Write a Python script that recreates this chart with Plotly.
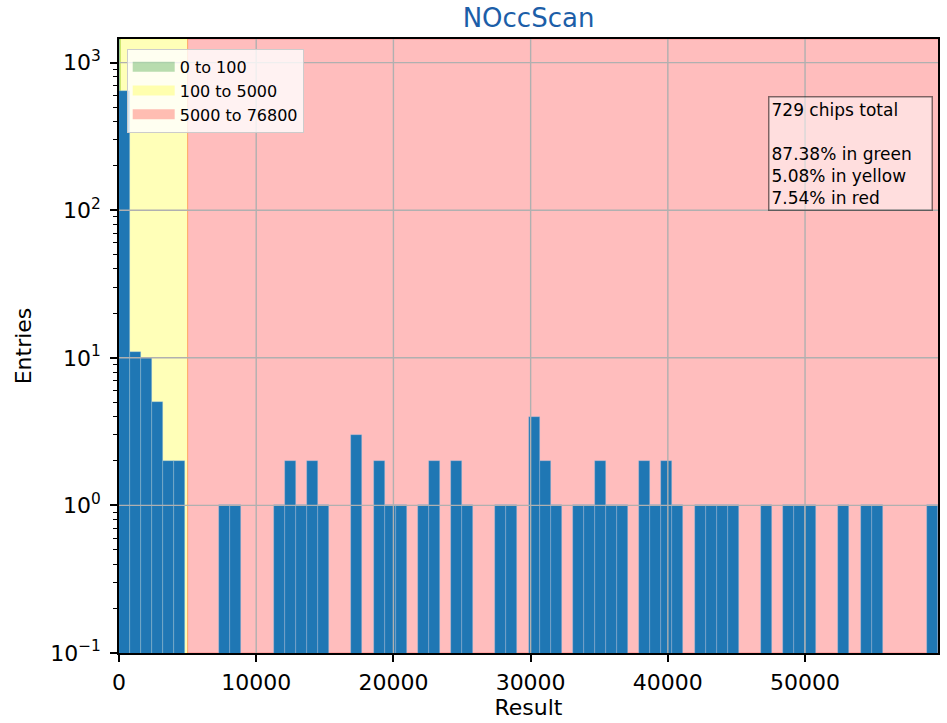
import numpy as np
import plotly.graph_objects as go

# Histogram of NOccScan results (74 equal-width bins from 0 to X_MAX)
X_MAX = 59690
counts = [644, 11, 10, 5, 2, 2, 0, 0, 0, 1,
          1, 0, 0, 0, 1, 2, 1, 2, 1, 0,
          0, 3, 0, 2, 1, 1, 0, 1, 2, 0,
          2, 1, 0, 0, 1, 1, 0, 4, 2, 1,
          0, 1, 1, 2, 1, 1, 0, 2, 1, 2,
          1, 0, 1, 1, 1, 1, 0, 0, 1, 0,
          1, 1, 1, 0, 0, 1, 0, 1, 1, 0,
          0, 0, 0, 1]

# Quality bands (lower, upper, label, colour)
band_lo = [0, 100, 5000]
band_hi = [100, 5000, 76800]
band_names = ["0 to 100", "100 to 5000", "5000 to 76800"]
band_colors = ["rgba(0,128,0,0.28)", "rgba(255,255,0,0.28)", "rgba(255,0,0,0.26)"]

x_ticks = [0, 10000, 20000, 30000, 40000, 50000]
x_ticktext = ["0", "10000", "20000", "30000", "40000", "50000"]
y_ticks = [0.1, 1, 10, 100, 1000]
y_ticktext = ["10<sup>\u22121</sup>", "10<sup>0</sup>", "10<sup>1</sup>",
              "10<sup>2</sup>", "10<sup>3</sup>"]
Y_LOG_RANGE = [-1, 3.16]

summary_lines = ["729 chips total", "", "87.38% in green", "5.08% in yellow", "7.54% in red"]

FONT = "DejaVu Sans"

edges = np.linspace(0, X_MAX, len(counts) + 1)
centers = (edges[:-1] + edges[1:]) / 2
widths = np.diff(edges)
bar_y = [c if c > 0 else None for c in counts]

fig = go.Figure()

# Bars
fig.add_trace(go.Bar(
    x=centers, y=bar_y, width=widths,
    marker=dict(color="#1f77b4", line=dict(color="rgba(170,200,230,0.55)", width=0.6)),
    showlegend=False, hoverinfo="x+y",
))

# Grid lines drawn on top of the bars
y_top = 10 ** Y_LOG_RANGE[1]
y_bot = 10 ** Y_LOG_RANGE[0]
gx, gy = [], []
for v in x_ticks[1:]:
    gx += [v, v, None]
    gy += [y_bot, y_top, None]
for v in y_ticks[1:]:
    gx += [0, X_MAX, None]
    gy += [v, v, None]
fig.add_trace(go.Scatter(x=gx, y=gy, mode="lines",
                         line=dict(color="#b0b0b0", width=1.4),
                         showlegend=False, hoverinfo="skip"))

# Legend entries for the bands
for name, col in zip(band_names, band_colors):
    fig.add_trace(go.Scatter(x=[None], y=[None], mode="lines", name=name,
                             line=dict(color=col, width=11)))

# Shaded bands behind everything
for lo, hi, col in zip(band_lo, band_hi, band_colors):
    fig.add_shape(type="rect", xref="x", yref="y domain", x0=lo, x1=hi, y0=0, y1=1,
                  fillcolor=col, line=dict(color=col, width=1), layer="below")

fig.add_annotation(
    xref="paper", yref="paper", x=0.793, y=0.907, xanchor="left", yanchor="top",
    text="<br>".join(summary_lines), align="left", showarrow=False,
    font=dict(family=FONT, size=17, color="black"),
    bgcolor="rgba(255,255,255,0.5)", bordercolor="rgba(0,0,0,0.5)",
    borderwidth=1.5, borderpad=2, width=158,
)

fig.update_layout(
    width=947, height=723,
    margin=dict(l=119, r=7, t=39, b=69),
    paper_bgcolor="white", plot_bgcolor="white",
    bargap=0,
    font=dict(family=FONT, color="black"),
    title=dict(text="NOccScan", x=0.5, xref="paper", y=0.975, yref="container",
               xanchor="center", yanchor="middle",
               font=dict(family=FONT, size=26, color="#1c5ea8")),
    legend=dict(x=0.0094, y=0.984, xanchor="left", yanchor="top", itemwidth=42,
                bgcolor="rgba(255,255,255,0.8)", bordercolor="#cccccc", borderwidth=1,
                font=dict(family=FONT, size=16, color="black")),
    xaxis=dict(range=[0, X_MAX], tickmode="array", tickvals=x_ticks, ticktext=x_ticktext,
               ticks="outside", ticklen=7, tickwidth=1.5, tickcolor="black",
               ticklabelstandoff=2,
               showline=True, mirror=True, linecolor="black", linewidth=1.5,
               showgrid=False, zeroline=False,
               tickfont=dict(family=FONT, size=22, color="black"),
               title=dict(text="Result", font=dict(family=FONT, size=22, color="black"), standoff=5)),
    yaxis=dict(type="log", range=Y_LOG_RANGE, tickmode="array", tickvals=y_ticks,
               ticktext=y_ticktext,
               ticks="outside", ticklen=7, tickwidth=1.5, tickcolor="black",
               ticklabelstandoff=5,
               minor=dict(ticks="outside", ticklen=4, tickwidth=1, tickcolor="black",
                          tickmode="array",
                          tickvals=[m * 10 ** e for e in range(-1, 3) for m in range(2, 10)],
                          showgrid=False),
               showline=True, mirror=True, linecolor="black", linewidth=1.5,
               showgrid=False, zeroline=False,
               tickfont=dict(family=FONT, size=22, color="black"),
               title=dict(text="Entries", font=dict(family=FONT, size=22, color="black"), standoff=12)),
)

fig.write_html("out.html")
